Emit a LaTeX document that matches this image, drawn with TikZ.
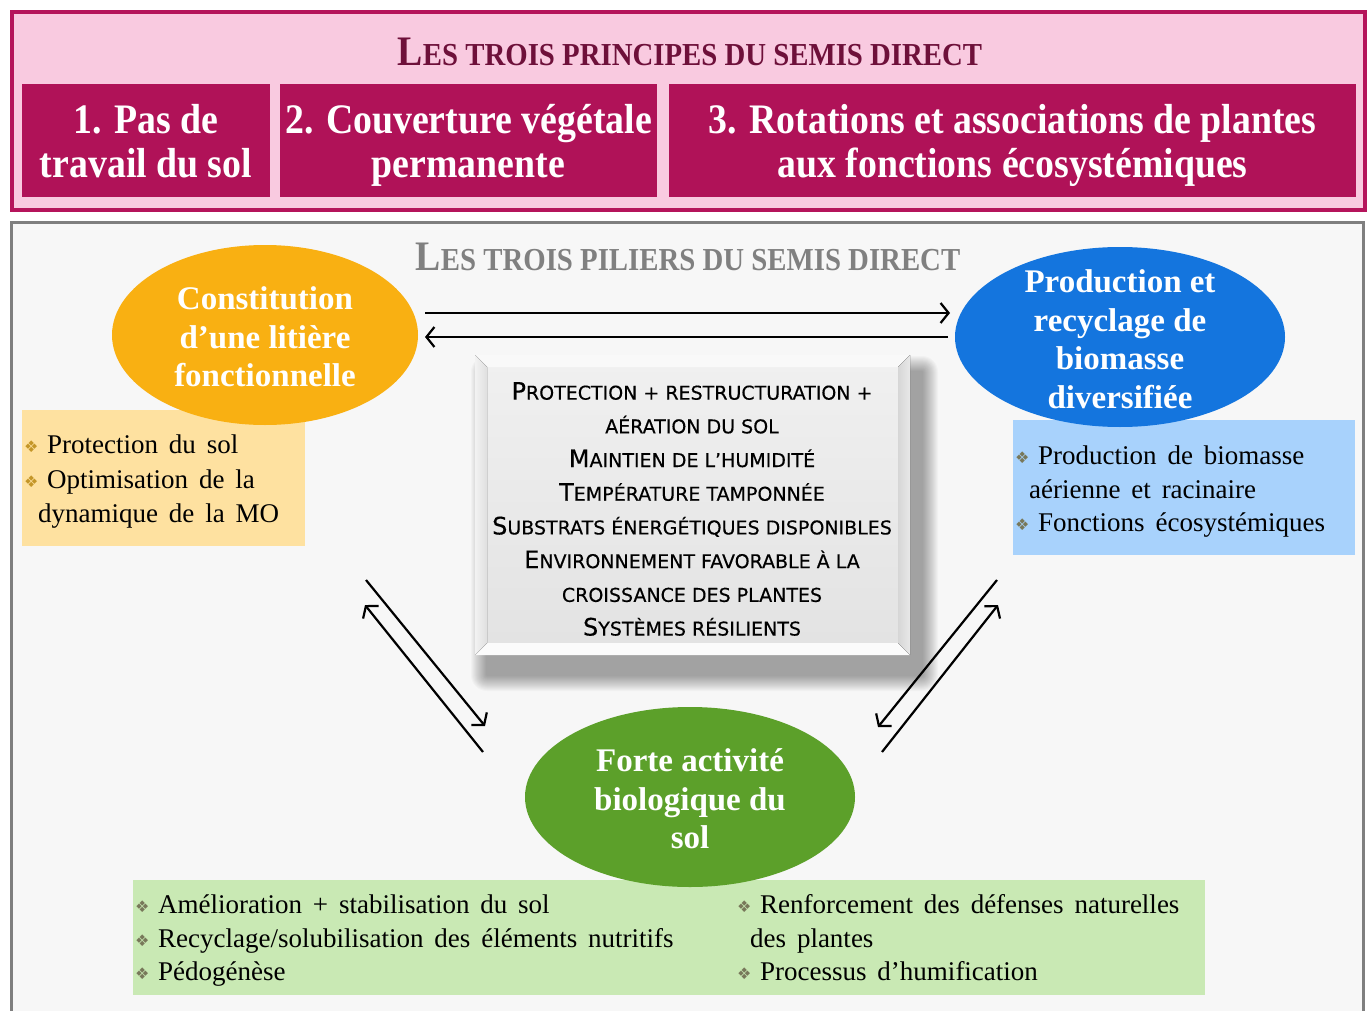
\documentclass[tikz,border=0pt]{standalone}
\usepackage{fontspec}
\setmainfont{Liberation Serif}
\newfontfamily\headf{Liberation Serif}[FakeStretch=0.9]
\newfontfamily\bodyf{Liberation Serif}[WordSpace=1.6]
\newfontfamily\capf{DejaVu Sans}[FakeBold=0.35]
\newfontfamily\symf{DejaVu Sans}
\usetikzlibrary{arrows.meta,shapes.geometric}
\definecolor{pinkbg}{RGB}{249,202,224}
\definecolor{pinkline}{RGB}{181,20,91}
\definecolor{princ}{RGB}{176,18,88}
\definecolor{titlered}{RGB}{110,16,58}
\definecolor{titlegray}{RGB}{128,128,128}
\definecolor{framegray}{RGB}{127,127,127}
\definecolor{framebg}{RGB}{247,247,247}
\definecolor{orangeE}{RGB}{249,176,18}
\definecolor{orangeB}{RGB}{254,225,160}
\definecolor{blueE}{RGB}{20,117,222}
\definecolor{blueB}{RGB}{168,210,252}
\definecolor{greenE}{RGB}{92,160,42}
\definecolor{greenB}{RGB}{201,233,180}
\definecolor{bulc}{RGB}{196,150,40}
\definecolor{bulg}{RGB}{120,120,90}
\newcommand\HS[2]{{\fontsize{42}{42}\selectfont #1}{\fontsize{32}{32}\selectfont #2}}
\newcommand\CB[1]{{\fontsize{24}{24}\selectfont #1}}
\newcommand\bul[1]{{\symf\fontsize{16}{16}\selectfont\color{#1}❖}}
\tikzset{
  princbox/.style={fill=princ, draw=none, inner sep=0pt},
  princtext/.style={text=white, inner sep=0pt,
    font=\headf\bfseries\fontsize{42}{44}\selectfont, align=center},
  pillar/.style={ellipse, draw=none, inner sep=0pt},
  pillartext/.style={text=white, inner sep=0pt, align=center,
    font=\bfseries\fontsize{33}{38.5}\selectfont},
  listbox/.style={draw=none, inner sep=0pt},
  item/.style={anchor=base west, inner sep=0pt, font=\bodyf\fontsize{27}{30}\selectfont},
  bullet/.style={anchor=base west, inner sep=0pt},
  link/.style={line width=2.2pt, -{Straight Barb[length=8pt,width=20pt,line width=2.2pt]}},
}
\begin{document}
\begin{tikzpicture}[x=1pt,y=-1pt]
\useasboundingbox (0,0) rectangle (1370,1011);
\fill[white] (0,0) rectangle (1370,1011);

% ---------- top frame: principles ----------
\node[draw=pinkline, line width=4pt, fill=pinkbg, minimum width=1353, minimum height=198, inner sep=0] (frame1) at (688.5,111) {};
\node[inner sep=0, text=titlered, font=\headf\bfseries] (t1) at (690,52) {\HS{L}{ES TROIS PRINCIPES DU SEMIS DIRECT}};
\node[princbox, minimum width=248, minimum height=113] (p1) at (146,140.5) {};
\node[princbox, minimum width=377, minimum height=113] (p2) at (468.5,140.5) {};
\node[princbox, minimum width=687, minimum height=113] (p3) at (1012.5,140.5) {};
\node[princtext] (p1t) at (146,145) {1. Pas de\\travail du sol\vphantom{p}};
\node[princtext] (p2t) at (468.5,145) {2. Couverture végétale\\permanente};
\node[princtext] (p3t) at (1012.5,145) {3. Rotations et associations de plantes\\aux fonctions écosystémiques};

% ---------- bottom frame: pillars ----------
\node[draw=framegray, line width=3pt, fill=framebg, minimum width=1352, minimum height=807, inner sep=0] (frame2) at (687.5,626) {};
\node[inner sep=0, text=titlegray, font=\headf\bfseries] (t2) at (688,257) {\HS{L}{ES TROIS PILIERS DU SEMIS DIRECT}};

% list boxes
\node[listbox, fill=orangeB, minimum width=283, minimum height=136] (ob) at (163.5,478) {};
\node[listbox, fill=blueB, minimum width=342, minimum height=135] (bb) at (1184,487.5) {};
\node[listbox, fill=greenB, minimum width=1072, minimum height=115] (gb) at (669,937.5) {};

% ellipses
\node[pillar, fill=orangeE, minimum width=306, minimum height=180] (lit) at (265,335) {};
\node[pillartext] (litT) at (265,337) {Constitution\\d’une litière\\fonctionnelle};
\node[pillar, fill=blueE, minimum width=330, minimum height=180] (bio) at (1120,337) {};
\node[pillartext] (bioT) at (1120,339) {Production et\\recyclage de\\biomasse\\diversifiée};
\node[pillar, fill=greenE, minimum width=330, minimum height=180] (act) at (690,797) {};
\node[pillartext] (actT) at (690,799) {Forte activité\\biologique du\\sol};

% center box: shadow
\foreach \i in {1,...,16}
  \fill[black, opacity=0.022, rounded corners=\i pt] ({487-\i},{372-\i}) rectangle ({922+\i},{675+\i});
\node[inner sep=0, minimum width=435, minimum height=300] (cbox) at (692.5,505) {};
\fill[gray!28] (475,355) rectangle (910,655);
\fill[top color=gray!12, bottom color=gray!22] (487,367) rectangle (898,643);
\fill[gray!5] (475,355) -- (910,355) -- (898,367) -- (487,367) -- cycle;
\fill[white!97!gray] (475,655) -- (910,655) -- (898,643) -- (487,643) -- cycle;
\fill[left color=gray!10, right color=gray!25] (475,355) -- (487,367) -- (487,643) -- (475,655) -- cycle;
\fill[left color=gray!32, right color=gray!18] (910,355) -- (898,367) -- (898,643) -- (910,655) -- cycle;
\node[inner sep=0, align=center, font=\capf\fontsize{19}{33.7}\selectfont] (ctext) at (692,509) {%
\CB{P}ROTECTION + RESTRUCTURATION +\\
AÉRATION DU SOL\\
\CB{M}AINTIEN DE L’HUMIDITÉ\\
\CB{T}EMPÉRATURE TAMPONNÉE\\
\CB{S}UBSTRATS ÉNERGÉTIQUES DISPONIBLES\\
\CB{E}NVIRONNEMENT FAVORABLE À LA\\
CROISSANCE DES PLANTES\\
\CB{S}YSTÈMES RÉSILIENTS};

% list items: orange
\node[bullet] (ob1) at (24,452) {\bul{bulc}};
\node[item] (o1) at (47,453) {Protection du sol};
\node[bullet] (ob2) at (24,487) {\bul{bulc}};
\node[item] (o2) at (47,488) {Optimisation de la};
\node[item] (o3) at (38,522) {dynamique de la MO};
% blue
\node[bullet] (bb1) at (1015,463) {\bul{bulg}};
\node[item] (b1) at (1038,464) {Production de biomasse};
\node[item] (b2) at (1029,498) {aérienne et racinaire};
\node[bullet] (bb3) at (1015,530) {\bul{bulg}};
\node[item] (b3) at (1038,531) {Fonctions écosystémiques};
% green
\node[bullet] (gb1) at (135,912) {\bul{bulg}};
\node[item] (g1) at (158,913) {Amélioration + stabilisation du sol};
\node[bullet] (gb2) at (135,946) {\bul{bulg}};
\node[item] (g2) at (158,947) {Recyclage/solubilisation des éléments nutritifs};
\node[bullet] (gb3) at (135,979) {\bul{bulg}};
\node[item] (g3) at (158,980) {Pédogénèse};
\node[bullet] (gb4) at (737,912) {\bul{bulg}};
\node[item] (g4) at (760,913) {Renforcement des défenses naturelles};
\node[item] (g5) at (750,947) {des plantes};
\node[bullet] (gb6) at (737,979) {\bul{bulg}};
\node[item] (g6) at (760,980) {Processus d’humification};

% connectors
\coordinate (hA1) at (425,313); \coordinate (hA2) at (950,313);
\coordinate (hB1) at (948,337); \coordinate (hB2) at (425,337);
\coordinate (lA1) at (366,580); \coordinate (lA2) at (485,726);
\coordinate (lB1) at (483,752); \coordinate (lB2) at (365,605);
\coordinate (rC1) at (997,580); \coordinate (rC2) at (878,727);
\coordinate (rD1) at (882,752); \coordinate (rD2) at (998,605);
\draw[link] (hA1) -- (hA2);
\draw[link] (hB1) -- (hB2);
\draw[link] (lA1) -- (lA2);
\draw[link] (lB1) -- (lB2);
\draw[link] (rC1) -- (rC2);
\draw[link] (rD1) -- (rD2);
\end{tikzpicture}
\end{document}
